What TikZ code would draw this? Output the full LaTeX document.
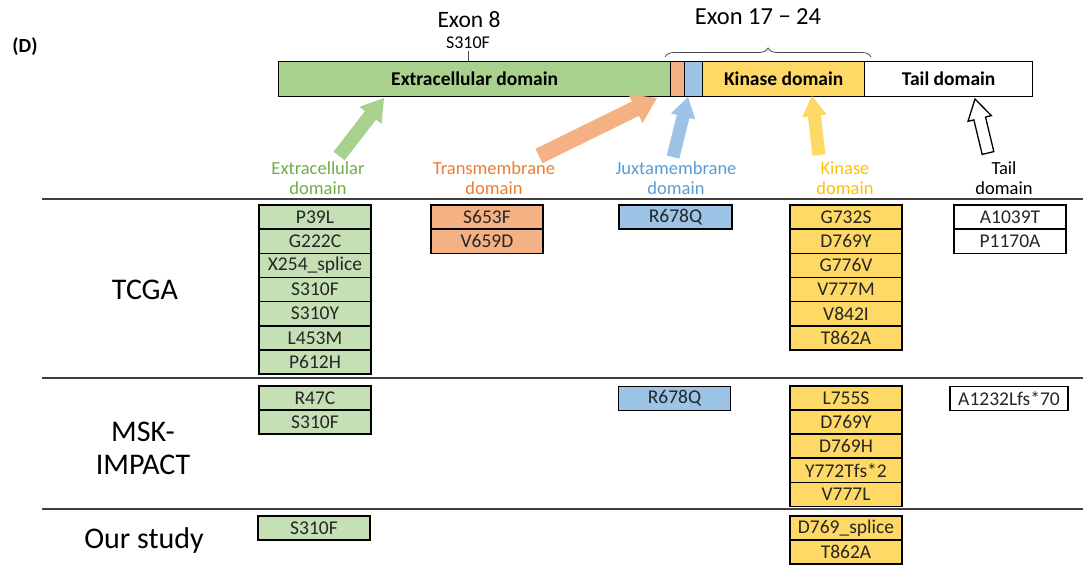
\documentclass[tikz,border=0pt]{standalone}
\usepackage{fontspec}
\setmainfont{Carlito}
\usetikzlibrary{calc,decorations.pathreplacing}
\definecolor{cGbar}{HTML}{A9D18E}
\definecolor{cGbox}{HTML}{C5E0B4}
\definecolor{cObox}{HTML}{F4B183}
\definecolor{cBbox}{HTML}{9DC3E6}
\definecolor{cYbox}{HTML}{FFD966}
\definecolor{cGtxt}{HTML}{70AD47}
\definecolor{cOtxt}{HTML}{ED7D31}
\definecolor{cBtxt}{HTML}{5B9BD5}
\definecolor{cYtxt}{HTML}{FFC000}
\newcommand\blockarrow[6]{%
  \coordinate (ba-n) at ($(#2)!#5!(#1)$);
  \filldraw[#6] ($(#1)!#3!90:(#2)$) -- ($(ba-n)!#3!-90:(#1)$) -- ($(ba-n)!#4!-90:(#1)$) -- (#2) -- ($(ba-n)!#4!90:(#1)$) -- ($(ba-n)!#3!90:(#1)$) -- ($(#1)!#3!-90:(#2)$) -- cycle;
}
\tikzset{
  mbox/.style={draw=black, line width=1.5pt, minimum height=24.15pt, inner sep=0pt,
    font=\fontsize{19.5}{21}\selectfont, text=black!85, anchor=north},
  seg/.style={draw=black, line width=1.3pt, minimum height=35pt, inner sep=0pt, anchor=north west,
    font=\bfseries\fontsize{19.5}{21}\selectfont},
  dlabel/.style={align=center, font=\fontsize{18.5}{20}\selectfont, inner sep=0pt},
  rowlabel/.style={align=center, font=\fontsize{30}{33}\selectfont, inner sep=0pt},
  rowline/.style={draw=black!75, line width=2pt},
}
\begin{document}
\begin{tikzpicture}[x=1pt,y=-1pt]
\useasboundingbox (0,0) rectangle (1083,566);
% panel label
\node[font=\bfseries\fontsize{20}{22}\selectfont, inner sep=0pt] (panel) at (25,47) {(D)};
% top bar
\node[seg, fill=cGbar, minimum width=392pt] (barEC) at (278,61) {Extracellular domain};
\node[seg, fill=cObox, minimum width=14pt] (barTM) at (670,61) {};
\node[seg, fill=cBbox, minimum width=18pt] (barJM) at (684,61) {};
\node[seg, fill=cYbox, minimum width=162pt] (barK) at (702,61) {Kinase domain};
\node[seg, fill=white, minimum width=168pt] (barT) at (864,61) {Tail domain};
% exon labels
\node[font=\fontsize{23.5}{26}\selectfont, inner sep=0pt] (ex8) at (469,20) {Exon 8};
\node[font=\fontsize{18}{20}\selectfont, inner sep=0pt] (s310) at (468,43) {S310F};
\coordinate (s310tick) at (468,51);
\draw[line width=0.8pt, black!70] (s310tick) -- (s310tick |- barEC.north);
\node[font=\fontsize{24.5}{27}\selectfont, inner sep=0pt] (ex17) at (758,17) {Exon 17 − 24};
\coordinate (brL) at (665,57);
\coordinate (brR) at (871,57);
\draw[line width=0.8pt, black!70, decorate, decoration={brace, amplitude=9pt}] (brL) -- (brR);
% domain labels
\node[dlabel, text=cGtxt] (lEC) at (318,178) {Extracellular\\domain};
\node[dlabel, text=cOtxt] (lTM) at (494,178) {Transmembrane\\domain};
\node[dlabel, text=cBtxt] (lJM) at (676,178) {Juxtamembrane\\domain};
\node[dlabel, text=cYtxt] (lK) at (845,178) {Kinase\\domain};
\node[dlabel, text=black] (lT) at (1004,178) {Tail\\domain};
% arrows
\coordinate (tailEC) at (339,156); \coordinate (tipEC) at (384,98);
\coordinate (tailTM) at (539,156); \coordinate (tipTM) at (657,98);
\coordinate (tailJM) at (673,157); \coordinate (tipJM) at (688,97);
\coordinate (tailK) at (819,155); \coordinate (tipK) at (812,96);
\coordinate (tailT) at (988,153); \coordinate (tipT) at (975,99);
\blockarrow{tailEC}{tipEC}{7pt}{14pt}{22pt}{fill=cGbar, draw=none}
\blockarrow{tailTM}{tipTM}{8pt}{16pt}{24pt}{fill=cObox, draw=none}
\blockarrow{tailJM}{tipJM}{6.5pt}{12.5pt}{20pt}{fill=cBbox, draw=none}
\blockarrow{tailK}{tipK}{6.5pt}{12.5pt}{20pt}{fill=cYbox, draw=none}
\blockarrow{tailT}{tipT}{6pt}{12pt}{20pt}{fill=white, draw=black, line width=1.3pt}
% row separators
\draw[rowline] (42,199) -- (1083,199);
\draw[rowline] (42,378) -- (1083,378);
\draw[rowline] (42,509) -- (1083,509);
% row labels
\node[rowlabel] (rTCGA) at (145,290) {TCGA};
\node[rowlabel] (rMSK) at (143,448) {MSK-\\IMPACT};
\node[rowlabel] (rOur) at (144,540) {Our study};
% TCGA
\foreach \m [count=\i from 0] in {P39L,G222C,X254\_splice,S310F,S310Y,L453M,P612H}
  \node[mbox, fill=cGbox, minimum width=112pt] (tcgaEC\i) at (315,204.3+24.15*\i) {\m};
\foreach \m [count=\i from 0] in {S653F,V659D}
  \node[mbox, fill=cObox, minimum width=112pt] (tcgaTM\i) at (487,204.3+24.15*\i) {\m};
\node[mbox, fill=cBbox, minimum width=113pt] (tcgaJM0) at (675.5,204.3) {R678Q};
\foreach \m [count=\i from 0] in {G732S,D769Y,G776V,V777M,V842I,T862A}
  \node[mbox, fill=cYbox, minimum width=112pt] (tcgaK\i) at (846,204.3+24.15*\i) {\m};
\foreach \m [count=\i from 0] in {A1039T,P1170A}
  \node[mbox, fill=white, minimum width=112pt] (tcgaT\i) at (1010,204.3+24.15*\i) {\m};
% MSK-IMPACT
\foreach \m [count=\i from 0] in {R47C,S310F}
  \node[mbox, fill=cGbox, minimum width=112pt] (mskEC\i) at (315,385+24.15*\i) {\m};
\node[mbox, fill=cBbox, minimum width=112pt] (mskJM0) at (674.5,385.5) {R678Q};
\foreach \m [count=\i from 0] in {L755S,D769Y,D769H,Y772Tfs*2,V777L}
  \node[mbox, fill=cYbox, minimum width=112pt] (mskK\i) at (846,385+24.15*\i) {\m};
\node[mbox, fill=white, minimum width=118pt] (mskT0) at (1009,385.5) {A1232Lfs*70};
% Our study
\node[mbox, fill=cGbox, minimum width=112pt] (ourEC0) at (314,515) {S310F};
\foreach \m [count=\i from 0] in {D769\_splice,T862A}
  \node[mbox, fill=cYbox, minimum width=112pt] (ourK\i) at (846,515+24.15*\i) {\m};
\end{tikzpicture}
\end{document}
